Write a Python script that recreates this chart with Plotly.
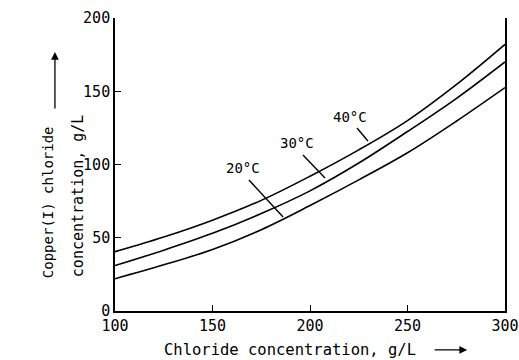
import plotly.graph_objects as go

# chloride concentration, g/L
chloride = [100, 125, 150, 175, 200, 225, 250, 275, 300]

# copper(I) chloride solubility, g/L
cucl_20 = [22, 31.5, 42, 55.5, 72, 89.5, 108, 129.5, 152.5]
cucl_30 = [31, 41.5, 53, 66.5, 82, 101, 122.5, 145, 170]
cucl_40 = [40.5, 50.5, 62, 75.5, 92, 110, 130, 154.5, 182]

x_ticks = [100, 150, 200, 250, 300]
y_ticks = [0, 50, 100, 150, 200]

FONT = "DejaVu Sans Mono, monospace"

fig = go.Figure()
for ys in (cucl_20, cucl_30, cucl_40):
    fig.add_trace(go.Scatter(x=chloride, y=ys, mode="lines",
                             line=dict(color="black", width=1.6, shape="spline"),
                             showlegend=False, hoverinfo="skip"))

# temperature labels with leader lines
labels = [
    ("20°C", 165.6, 97.6, (168.7, 89.4), (186.2, 64.2)),
    ("30°C", 193.3, 114.7, (196.4, 106.5), (207.7, 90.8)),
    ("40°C", 220.5, 132.4, (224.1, 124.9), (229.7, 116.0)),
]
for txt, lx, ly, p0, p1 in labels:
    fig.add_annotation(x=lx, y=ly, text=txt, showarrow=False,
                       font=dict(family=FONT, size=14, color="black"))
    fig.add_shape(type="line", x0=p0[0], y0=p0[1], x1=p1[0], y1=p1[1],
                  line=dict(color="black", width=1.4))

# y title (two rotated lines) and arrow
fig.add_annotation(xref="paper", yref="paper", x=-0.197, y=0.372,
                   text="Copper(I) chloride", textangle=-90, showarrow=False,
                   font=dict(family=FONT, size=14, color="black"))
fig.add_annotation(xref="paper", yref="paper", x=-0.123, y=0.392,
                   text="concentration, g/L", textangle=-90, showarrow=False,
                   font=dict(family=FONT, size=15, color="black"))
fig.add_annotation(xref="paper", yref="paper", x=-0.154, y=0.884,
                   ax=0, ay=58, text="", showarrow=True, arrowhead=2,
                   arrowsize=1.2, arrowwidth=1.3, arrowcolor="black")

# x title and arrow
fig.add_annotation(xref="paper", yref="paper", x=0.12, y=-0.133,
                   xanchor="left", yanchor="middle",
                   text="Chloride concentration, g/L", showarrow=False,
                   font=dict(family=FONT, size=15.5, color="black"))
fig.add_annotation(xref="paper", yref="paper", x=0.903, y=-0.133,
                   ax=-34, ay=0, text="", showarrow=True, arrowhead=2,
                   arrowsize=1.2, arrowwidth=1.3, arrowcolor="black")

fig.update_layout(
    width=519, height=360,
    margin=dict(l=115, r=14, t=18, b=49),
    paper_bgcolor="white", plot_bgcolor="white",
    font=dict(family=FONT, size=15, color="black"),
)
fig.update_xaxes(range=[100, 300], tickvals=x_ticks, showgrid=False,
                 zeroline=False, showline=True, linecolor="black", linewidth=1.6,
                 ticks="inside", ticklen=6, tickcolor="black", automargin=False)
fig.update_yaxes(range=[0, 200], tickvals=y_ticks, showgrid=False,
                 zeroline=False, showline=True, linecolor="black", linewidth=1.6,
                 mirror=True, ticks="inside", ticklen=6, tickcolor="black",
                 automargin=False)

fig.write_html("out.html", config={"displayModeBar": False},
               post_script="document.body.style.margin='0';")
